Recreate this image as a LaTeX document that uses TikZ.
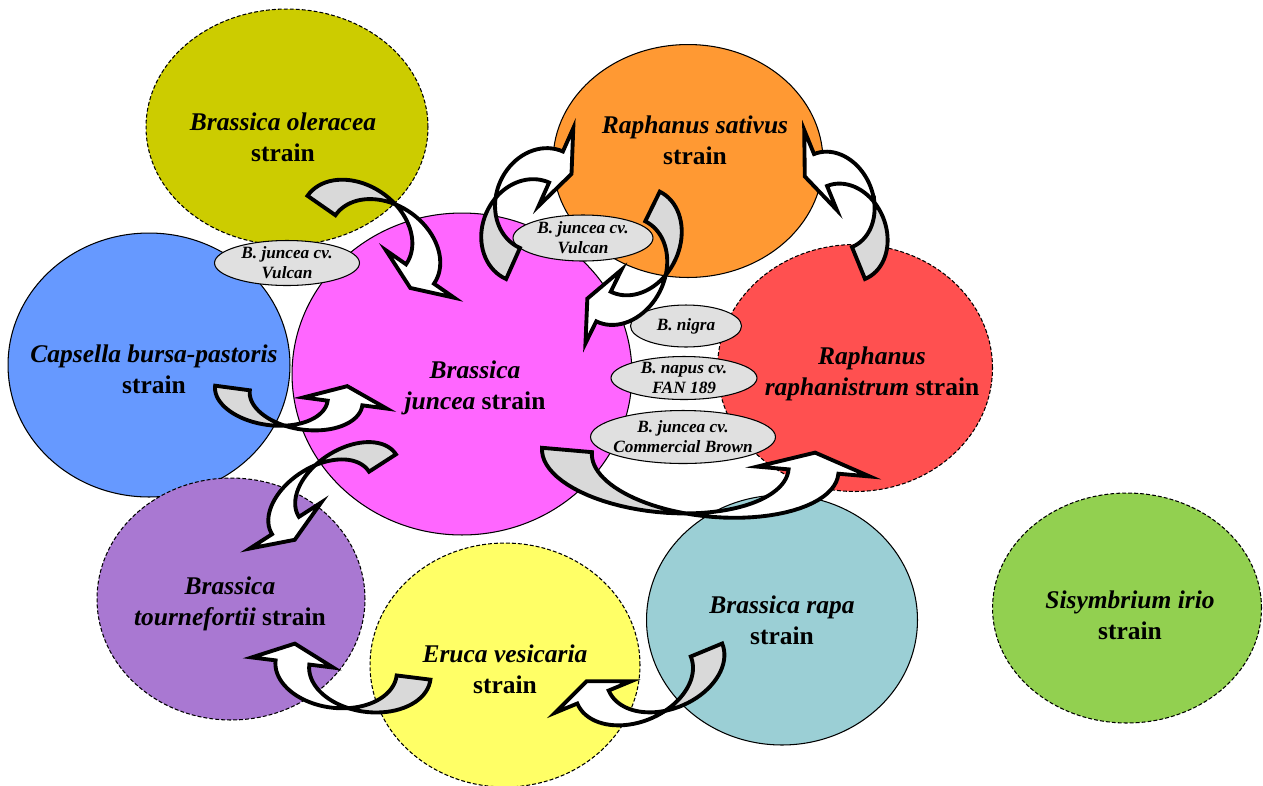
\documentclass[tikz,border=0pt]{standalone}
\usepackage{fontspec}
\setmainfont{Liberation Serif}
\usetikzlibrary{shapes.geometric}

\definecolor{olerCol}{HTML}{CCCC00}
\definecolor{capsCol}{HTML}{6699FF}
\definecolor{juncCol}{HTML}{FF66FF}
\definecolor{sativCol}{HTML}{FF9933}
\definecolor{raphCol}{HTML}{FF5050}
\definecolor{tournCol}{HTML}{A978D2}
\definecolor{erucaCol}{HTML}{FFFF66}
\definecolor{rapaCol}{HTML}{9BCFD5}
\definecolor{sisyCol}{HTML}{92D050}
\definecolor{cvCol}{HTML}{E0E0E0}
\definecolor{tailCol}{HTML}{D9D9D9}

% curved band arrow: #1 origin, #2 axis angle, #3 bulge angle,
% #4 half span, #5 depth, #6 band offset, #7 barb, #8 head height
\newcommand{\bandarrow}[8]{%
  \begin{scope}[shift={#1}, x={(#2:0.02cm)}, y={(#3:0.02cm)}]
    \pgfmathsetmacro{\crossang}{acos(#6/(2*#4))}
    \pgfmathsetmacro{\crossbck}{180-\crossang}
    \filldraw[bandline, fill=tailCol]
      plot[domain=180:\crossang, samples=24] ({-#6/2+#4*cos(\x)}, {#5*sin(\x)})
      -- plot[domain=\crossbck:180, samples=24] ({#6/2+#4*cos(\x)}, {#5*sin(\x)}) -- cycle;
    \filldraw[bandline, fill=white]
      plot[domain=\crossbck:0, samples=24] ({#6/2+#4*cos(\x)}, {#5*sin(\x)})
      -- ({#6/2+#4+#7}, 0) -- (#4, -#8) -- ({-#6/2+#4-#7}, 0)
      -- plot[domain=0:\crossang, samples=24] ({-#6/2+#4*cos(\x)}, {#5*sin(\x)}) -- cycle;
  \end{scope}}

\begin{document}
\begin{tikzpicture}[x=0.02cm, y=-0.02cm,
    strain/.style={ellipse, draw=black, line width=0.6pt, inner sep=0pt},
    dashline/.style={dash pattern=on 2.2pt off 1.2pt},
    strainname/.style={font=\fontsize{14.5}{17.5}\selectfont\bfseries, align=center, inner sep=0pt},
    cultivar/.style={ellipse, draw=black, line width=0.6pt, fill=cvCol, inner sep=0pt},
    cultivarname/.style={font=\fontsize{9.8}{11.5}\selectfont\bfseries\itshape, align=center, inner sep=0pt},
    bandline/.style={draw=black, line width=2.2pt, line join=miter},
  ]
  \useasboundingbox (0,0) rectangle (1263,785);

  % strains
  \node[strain, dashline, fill=olerCol, minimum width=5.64cm, minimum height=4.72cm] (oleracea) at (287,127) {};
  \node[strain, fill=capsCol, minimum width=5.64cm, minimum height=5.28cm] (capsella) at (149,365) {};
  \node[strain, fill=juncCol, minimum width=6.80cm, minimum height=6.44cm] (juncea) at (462,374) {};
  \node[strain, fill=sativCol, minimum width=5.40cm, minimum height=4.66cm] (sativus) at (688,161) {};
  \node[strain, dashline, fill=raphCol, minimum width=5.50cm, minimum height=4.94cm] (raphanistrum) at (855,368) {};
  \node[strain, dashline, fill=tournCol, minimum width=5.36cm, minimum height=4.84cm] (tournefortii) at (231,599) {};
  \node[strain, dashline, fill=erucaCol, minimum width=5.40cm, minimum height=4.88cm] (eruca) at (505,665) {};
  \node[strain, fill=rapaCol, minimum width=5.42cm, minimum height=5.00cm] (rapa) at (782,620) {};
  \node[strain, dashline, fill=sisyCol, minimum width=5.38cm, minimum height=4.60cm] (sisymbrium) at (1127,608) {};

  \node[strainname] at (283,137) {\textit{Brassica oleracea}\\strain};
  \node[strainname] at (154,369) {\textit{Capsella bursa-pastoris}\\strain};
  \node[strainname] at (475,388) {\textit{Brassica}\\\textit{juncea} strain};
  \node[strainname] at (695,140) {\textit{Raphanus sativus}\\strain};
  \node[strainname] at (872,374) {\textit{Raphanus}\\\textit{raphanistrum} strain};
  \node[strainname] at (230,604) {\textit{Brassica}\\\textit{tournefortii} strain};
  \node[strainname] at (505,669) {\textit{Eruca vesicaria}\\strain};
  \node[strainname] at (782,620) {\textit{Brassica rapa}\\strain};
  \node[strainname] at (1130,615) {\textit{Sisymbrium irio}\\strain};

  % cultivars
  \node[cultivar, minimum width=2.90cm, minimum height=0.90cm] (vulcanL) at (287,263) {};
  \node[cultivar, minimum width=2.80cm, minimum height=0.92cm] (vulcanT) at (583,238) {};
  \node[cultivar, minimum width=2.22cm, minimum height=0.84cm] (nigra) at (686,326) {};
  \node[cultivar, minimum width=2.92cm, minimum height=0.86cm] (napus) at (684,378) {};
  \node[cultivar, minimum width=3.70cm, minimum height=1.06cm] (brown) at (683,437) {};

  \node[cultivarname] at (vulcanL) {B. juncea cv.\\Vulcan};
  \node[cultivarname] at (vulcanT) {B. juncea cv.\\Vulcan};
  \node[cultivarname] at (nigra) {B. nigra};
  \node[cultivarname] at (napus) {B. napus cv.\\FAN 189};
  \node[cultivarname] at (brown) {B. juncea cv.\\Commercial Brown};

  % transfers
  \bandarrow{(370.75,239.75)}{-34.8}{55.2}{60}{45}{34}{24.5}{17}    % oleracea -> juncea
  \bandarrow{(534.5,215.25)}{66}{156}{52.8}{45}{34}{25.5}{17}       % juncea -> sativus
  \bandarrow{(628,256.5)}{243.9}{333.9}{55.7}{44}{33}{24.5}{18}     % sativus -> juncea
  \bandarrow{(839.5,216.5)}{112.2}{22.2}{50.2}{40}{34.5}{26}{17}    % sativus -> raphanistrum
  \bandarrow{(288.75,395.5)}{-7.6}{-97.6}{56.75}{32}{35}{24.5}{17}  % capsella -> juncea
  \bandarrow{(334,494.25)}{212.8}{122.8}{57.7}{36}{32}{26.5}{17}    % juncea -> tournefortii
  \bandarrow{(353,670)}{172.9}{262.9}{61}{40}{34}{24}{19}           % eruca -> tournefortii
  \bandarrow{(649.75,673.5)}{202.5}{292.5}{61.4}{42}{34}{24}{17}    % rapa -> eruca
  \bandarrow{(690.25,460.75)}{-5}{-95}{123.7}{54}{50}{31.5}{19}     % juncea -> raphanistrum
\end{tikzpicture}
\end{document}
